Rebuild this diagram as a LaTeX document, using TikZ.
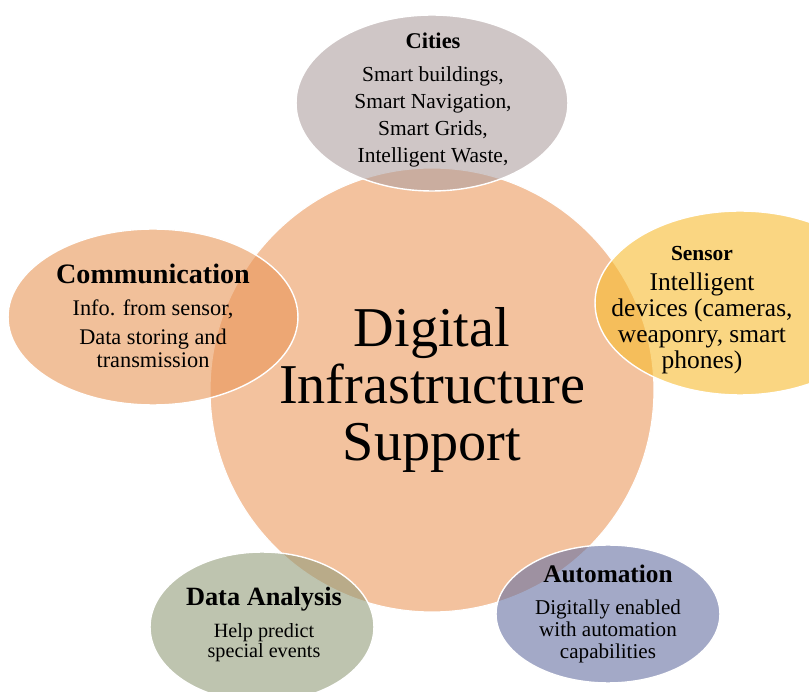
\documentclass[tikz,border=0pt]{standalone}
\usepackage{fontspec}
\setmainfont{Liberation Serif}
\usepackage{xcolor}
\usepackage{tikz}
\usetikzlibrary{positioning, shapes.geometric}
\definecolor{hubsalmon}{HTML}{F3C29E}
\definecolor{citygray}{RGB}{175,160,160}
\definecolor{commorange}{RGB}{233,150,88}
\definecolor{sensoryellow}{RGB}{247,188,47}
\definecolor{datagreen}{RGB}{147,157,123}
\definecolor{autoblue}{RGB}{102,113,163}

\begin{document}
\begin{tikzpicture}[x=0.02cm, y=-0.02cm,
    petal/.style={ellipse, draw=white, line width=0.8pt, fill opacity=0.6, inner sep=0pt},
    petaltext/.style={align=center, text=black, inner sep=0pt}]
  \clip (0,0) rectangle (809,692);
  \fill[white] (0,0) rectangle (809,692);

  % centre circle
  \node[circle, fill=hubsalmon, draw=white, line width=0.6pt, minimum size=8.88cm,
        align=center, font=\fontsize{32}{32.5}\selectfont] (hub) at (432,390)
        {Digital\\Infrastructure\\Support};

  % the five petals round it
  \node[petal, fill=citygray, minimum width=5.44cm, minimum height=3.52cm] (cities) at (432,103) {};
  \node[petal, fill=commorange, minimum width=5.8cm, minimum height=3.52cm] (comm) at (153,317) {};
  \node[petal, fill=sensoryellow, minimum width=5.8cm, minimum height=3.68cm] (sensor) at (740,303) {};
  \node[petal, fill=datagreen, minimum width=4.48cm, minimum height=3.0cm] (data) at (262,627) {};
  \node[petal, fill=autoblue, minimum width=4.48cm, minimum height=2.76cm] (auto) at (608,614) {};

  \node[petaltext, font=\fontsize{12.2}{15.3}\selectfont] (citiestext) at (433,100) {%
    {\fontsize{12.8}{15.3}\selectfont\textbf{Cities}}\\[3.4pt]
    Smart buildings,\\ Smart Navigation,\\ Smart Grids,\\ Intelligent Waste,};
  \node[petaltext, font=\fontsize{12.7}{13}\selectfont] (commtext) at (153,316) {%
    {\fontsize{16}{13}\selectfont\textbf{Communication}}\\[5pt]
    Info. from sensor,\\[4pt] Data storing and\\ transmission};
  \node[petaltext, font=\fontsize{14.5}{14.8}\selectfont] (sensortext) at (702,310) {%
    {\fontsize{12.2}{14.8}\selectfont\textbf{Sensor}}\\[2pt]
    Intelligent\\ devices (cameras,\\ weaponry, smart\\ phones)};
  \node[petaltext, font=\fontsize{11.5}{11.8}\selectfont] (datatext) at (264,625) {%
    {\fontsize{15}{11.8}\selectfont\textbf{Data Analysis}}\\[6pt]
    Help predict\\ special events};
  \node[petaltext, font=\fontsize{12}{12.5}\selectfont] (autotext) at (608,614) {%
    {\fontsize{14.4}{12.5}\selectfont\textbf{Automation}}\\[5.5pt]
    Digitally enabled\\ with automation\\ capabilities};
\end{tikzpicture}
\end{document}
